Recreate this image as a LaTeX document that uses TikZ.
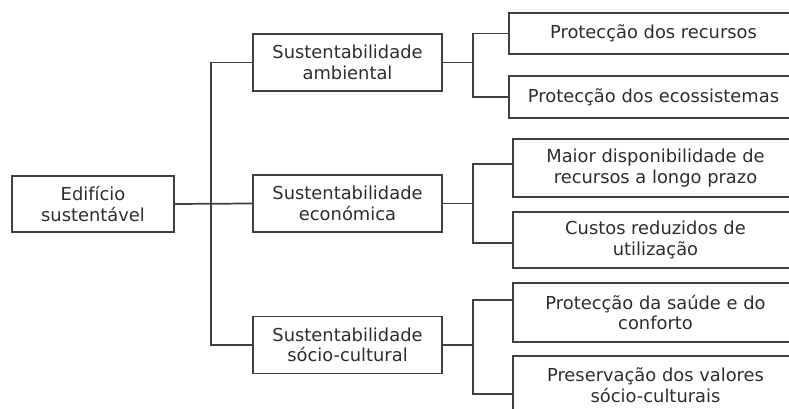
\documentclass[tikz,border=0pt]{standalone}
\usepackage{fontspec}
\setmainfont{DejaVu Sans}
\usetikzlibrary{calc}
\definecolor{ink}{HTML}{2E2E2E}
\definecolor{rule}{HTML}{404040}
\begin{document}
\begin{tikzpicture}[x=0.75pt,y=-0.75pt,
  box/.style={draw=rule,line width=1.3pt,fill=white,text=ink,align=center,
    inner sep=0pt,font=\fontsize{13.4}{15.5}\selectfont},
  rootbox/.style={box,minimum width=121.5pt,minimum height=42pt},
  midbox/.style={box,minimum width=141.75pt,minimum height=42.75pt},
  leafbox/.style={box,minimum width=214pt},
  link/.style={draw=rule,line width=1.3pt}]
\clip (0,0) rectangle (789,409);
\fill[white] (0,0) rectangle (789,409);

% root and second level
\node[rootbox] (root) at (93,204) {Edifício\\sustentável};
\node[midbox] (m1) at (347.5,62.5) {Sustentabilidade\\ambiental};
\node[midbox] (m2) at (347.5,203.5) {Sustentabilidade\\económica};
\node[midbox] (m3) at (347.5,345) {Sustentabilidade\\sócio-cultural};

% leaves (they run past the right edge)
\node[leafbox,minimum width=216.75pt,minimum height=30.75pt] (r1) at (653.5,33.5) {Protecção dos recursos};
\node[leafbox,minimum width=216.75pt,minimum height=31.5pt] (r2) at (653.5,97) {Protecção dos ecossistemas};
\node[leafbox,minimum width=213.75pt,minimum height=43.5pt] (r3) at (655.5,168) {Maior disponibilidade de\\recursos a longo prazo};
\node[leafbox,minimum width=213.75pt,minimum height=42pt] (r4) at (655.5,240) {Custos reduzidos de\\utilização};
\node[leafbox,minimum width=213.75pt,minimum height=44.25pt] (r5) at (655.5,312.5) {Protecção da saúde e do\\conforto};
\node[leafbox,minimum width=213.75pt,minimum height=44.25pt] (r6) at (655.5,385.5) {Preservação dos valores\\sócio-culturais};

% trunk
\coordinate (t) at (211,204);
\draw[link] (root.east) -- (m2.west);
\draw[link] (m1.west) -| (t) |- (m3.west);

% branch points on the leaves
\coordinate (a1) at (r1.west);
\coordinate (a2) at (r2.west);
\coordinate (a3) at ($(r3.north west)!0.43!(r3.south west)$);
\coordinate (a4) at ($(r4.north west)!0.55!(r4.south west)$);
\coordinate (a5) at ($(r5.north west)!0.3!(r5.south west)$);
\coordinate (a6) at ($(r6.north west)!0.64!(r6.south west)$);

% forks
\coordinate (j1) at ($(m1.east)+(30,0)$);
\coordinate (j2) at ($(m2.east)+(30,0)$);
\coordinate (j3) at ($(m3.east)+(30,0)$);
\draw[link] (m1.east) -- (j1);
\draw[link] (a1) -| (j1) |- (a2);
\draw[link] (m2.east) -- (j2);
\draw[link] (a3) -| (j2) |- (a4);
\draw[link] (m3.east) -- (j3);
\draw[link] (a5) -| (j3) |- (a6);
\end{tikzpicture}
\end{document}
